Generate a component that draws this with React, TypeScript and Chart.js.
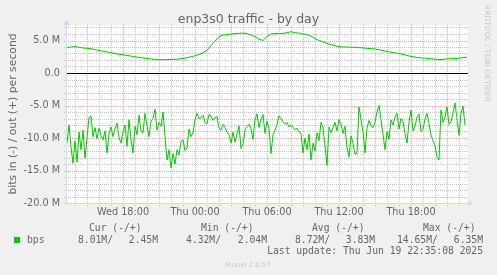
import React, { useEffect, useRef } from 'react';
import { Chart, registerables } from 'chart.js';

Chart.register(...registerables);

const title = 'enp3s0 traffic - by day';
const yAxisTitle = 'bits in (-) / out (+) per second';
const seriesName = 'bps';
const startHour = 13 + 20 / 60; // Wed 13:20
const endHour = 46 + 40 / 60; // Thu 22:40
const inStepHours = 10 / 60;
const outStepHours = 20 / 60;

// bits in (negative, in M)
const bitsIn = [
  -10.8, -8.0, -11.4, -13.9, -10.5, -13.7, -9.1, -11.8, -8.8, -13.1,
  -10.0, -6.9, -6.6, -9.8, -8.4, -10.1, -8.5, -9.6, -10.3, -8.9,
  -12.3, -9.4, -8.3, -9.8, -8.6, -7.7, -9.9, -10.8, -9.1, -8.0,
  -11.3, -7.2, -10.2, -12.3, -8.2, -9.5, -6.5, -9.0, -9.2, -6.2,
  -8.1, -9.8, -7.4, -7.0, -5.6, -8.8, -7.6, -8.2, -6.0, -9.8,
  -13.4, -11.8, -14.6, -12.4, -14.0, -11.8, -12.6, -10.5, -10.3, -11.9,
  -11.5, -8.6, -9.8, -9.2, -7.2, -6.2, -7.0, -6.9, -6.5, -7.6,
  -7.8, -6.4, -6.6, -7.3, -6.9, -6.7, -8.5, -8.8, -7.9, -8.4,
  -9.1, -9.5, -10.8, -9.1, -10.6, -9.4, -8.1, -11.6, -10.9, -8.8,
  -8.2, -7.9, -8.6, -10.2, -7.1, -6.3, -8.4, -7.2, -6.4, -9.3,
  -7.4, -8.6, -12.4, -9.5, -8.8, -8.0, -6.6, -7.0, -7.5, -7.9,
  -7.6, -8.3, -8.0, -8.4, -8.7, -8.5, -9.0, -9.3, -12.3, -10.0,
  -11.8, -9.4, -13.4, -10.8, -12.0, -9.2, -10.4, -7.6, -8.4, -11.2,
  -14.2, -8.3, -9.2, -8.4, -7.6, -8.9, -7.2, -7.9, -9.3, -8.2,
  -11.5, -12.9, -9.7, -10.8, -12.5, -12.3, -5.2, -7.2, -9.0, -12.3,
  -8.5, -7.3, -8.1, -8.4, -7.6, -6.0, -5.0, -7.2, -9.4, -11.8,
  -9.0, -10.2, -7.2, -8.0, -6.8, -6.2, -8.6, -7.0, -7.5, -9.3,
  -10.8, -7.6, -5.7, -8.9, -8.2, -6.8, -6.3, -9.0, -8.7, -7.1,
  -6.2, -7.8, -9.5, -10.4, -11.2, -12.9, -13.4, -5.7, -7.6, -6.8,
  -5.2, -7.9, -7.5, -6.2, -4.6, -7.1, -9.6, -6.2, -5.1, -8.0,
];

// bits out (positive, in M)
const bitsOut = [
  3.9, 4.0, 4.05, 3.95, 3.85, 3.8, 3.75, 3.6, 3.45, 3.35,
  3.25, 3.15, 3.0, 2.9, 2.8, 2.7, 2.6, 2.5, 2.4, 2.3,
  2.25, 2.15, 2.1, 2.05, 2.05, 2.05, 2.1, 2.1, 2.15, 2.25,
  2.35, 2.5, 2.65, 2.85, 3.1, 3.5, 4.2, 4.9, 5.6, 5.85,
  5.9, 6.0, 6.05, 6.1, 6.15, 6.05, 5.85, 5.6, 5.2, 5.0,
  5.6, 6.0, 6.05, 6.1, 6.1, 6.2, 6.35, 6.2, 6.15, 6.0,
  5.9, 5.7, 5.3, 5.0, 4.8, 4.55, 4.35, 4.2, 4.05, 4.0,
  4.0, 3.95, 3.95, 3.9, 3.85, 3.8, 3.75, 3.7, 3.6, 3.45,
  3.3, 3.2, 3.1, 3.0, 2.85, 2.7, 2.55, 2.45, 2.35, 2.3,
  2.25, 2.2, 2.1, 2.05, 2.1, 2.15, 2.3, 2.2, 2.3, 2.35,
  2.45,
];

const xTickHours = [18, 24, 30, 36, 42];
const xTickLabels = ['Wed 18:00', 'Thu 00:00', 'Thu 06:00', 'Thu 12:00', 'Thu 18:00'];
const yTickValues = [-20, -15, -10, -5, 0, 5];
const yTickLabels = ['-20.0 M', '-15.0 M', '-10.0 M', '-5.0 M', '0.0', '5.0 M'];
const yMin = -20;
const yMax = 7.4;

const legendHeaders = ['Cur (-/+)', 'Min (-/+)', 'Avg (-/+)', 'Max (-/+)'];
const legendIn = ['8.01M/', '4.32M/', '8.72M/', '14.65M/'];
const legendOut = ['2.45M', '2.04M', '3.83M', '6.35M'];
const lastUpdate = 'Last update: Thu Jun 19 22:35:08 2025';
const watermark = 'Munin 2.0.57';
const sideText = 'RRDTOOL / TOBI OETIKER';

const GREEN = '#00cc00';
const FONT_COLOR = '#666666';
const MINOR = 'rgba(128,128,128,0.45)';
const MAJOR = 'rgba(230,77,77,0.5)';
const AXIS = '#cfd6f8';
const SANS = '"DejaVu Sans", sans-serif';
const MONO = '"DejaVu Sans Mono", monospace';

const headerX = [89, 201, 312, 423];
const inX = [78, 186, 295, 397];
const outRightX = [158, 267, 375, 483];

const muninPlugin = {
  id: 'muninDecor',
  beforeDraw(chart: any) {
    const { ctx, chartArea: a } = chart;
    const xs = chart.scales.x;
    const ys = chart.scales.y;
    ctx.save();
    ctx.fillStyle = '#f0f0f0';
    ctx.fillRect(0, 0, chart.width, chart.height);
    ctx.fillStyle = '#ffffff';
    ctx.fillRect(a.left, a.top, a.right - a.left + 1, a.bottom - a.top);
    ctx.lineWidth = 1;
    ctx.setLineDash([1, 1]);
    for (let h = Math.ceil(xs.min); h <= Math.floor(xs.max); h++) {
      const px = Math.round(xs.getPixelForValue(h)) + 0.5;
      ctx.strokeStyle = h % 3 === 0 ? MAJOR : MINOR;
      ctx.beginPath();
      ctx.moveTo(px, a.top);
      ctx.lineTo(px, a.bottom + 3);
      ctx.stroke();
    }
    for (let v = Math.ceil(ys.min); v <= Math.floor(ys.max); v++) {
      if (v === 0) continue;
      const py = Math.round(ys.getPixelForValue(v)) + 0.5;
      ctx.strokeStyle = v % 5 === 0 ? MAJOR : MINOR;
      ctx.beginPath();
      ctx.moveTo(a.left - 3, py);
      ctx.lineTo(a.right, py);
      ctx.stroke();
    }
    ctx.setLineDash([]);
    const zy = Math.round(ys.getPixelForValue(0)) + 0.5;
    ctx.strokeStyle = '#000000';
    ctx.beginPath();
    ctx.moveTo(a.left, zy);
    ctx.lineTo(a.right + 1, zy);
    ctx.stroke();
    // axes with arrows
    const ax = Math.round(a.left) - 0.5;
    const by = Math.round(a.bottom) + 0.5;
    ctx.strokeStyle = AXIS;
    ctx.beginPath();
    ctx.moveTo(ax, by);
    ctx.lineTo(ax, a.top - 3);
    ctx.moveTo(ax - 3, by);
    ctx.lineTo(a.right + 2, by);
    ctx.stroke();
    ctx.fillStyle = AXIS;
    ctx.beginPath();
    ctx.moveTo(ax - 3, a.top);
    ctx.lineTo(ax, a.top - 5);
    ctx.lineTo(ax + 3, a.top);
    ctx.closePath();
    ctx.fill();
    ctx.beginPath();
    ctx.moveTo(a.right + 1, by - 3);
    ctx.lineTo(a.right + 6, by);
    ctx.lineTo(a.right + 1, by + 3);
    ctx.closePath();
    ctx.fill();
    ctx.restore();
  },
  afterDraw(chart: any) {
    const { ctx, chartArea: a } = chart;
    ctx.save();
    ctx.fillStyle = FONT_COLOR;
    ctx.textAlign = 'center';
    ctx.textBaseline = 'alphabetic';
    ctx.font = `12.5px ${SANS}`;
    ctx.fillText(title, chart.width / 2, 23);

    ctx.save();
    ctx.font = `10.8px ${SANS}`;
    ctx.translate(15.5, (a.top + a.bottom) / 2);
    ctx.rotate(-Math.PI / 2);
    ctx.textAlign = 'center';
    ctx.textBaseline = 'alphabetic';
    ctx.fillText(yAxisTitle, 0, 0);
    ctx.restore();

    ctx.save();
    ctx.fillStyle = 'rgba(102,102,102,0.3)';
    ctx.font = `7.5px ${SANS}`;
    ctx.translate(484.5, 5);
    ctx.rotate(Math.PI / 2);
    ctx.textAlign = 'left';
    ctx.textBaseline = 'alphabetic';
    ctx.fillText(sideText, 0, 0);
    ctx.restore();

    ctx.font = `9.7px ${MONO}`;
    ctx.textAlign = 'left';
    legendHeaders.forEach((h, i) => ctx.fillText(h, headerX[i], 230.5));
    legendIn.forEach((t, i) => ctx.fillText(t, inX[i], 242.5));
    ctx.textAlign = 'right';
    legendOut.forEach((t, i) => ctx.fillText(t, outRightX[i], 242.5));
    ctx.fillText(lastUpdate, 483, 254);
    ctx.textAlign = 'left';
    ctx.fillText(seriesName, 27, 242.5);
    ctx.fillStyle = GREEN;
    ctx.fillRect(14, 237, 6, 6);

    ctx.fillStyle = 'rgba(102,102,102,0.3)';
    ctx.font = `6.9px ${SANS}`;
    ctx.textAlign = 'center';
    ctx.fillText(watermark, 248, 266.5);
    ctx.restore();
  },
};

export default function App() {
  const ref = useRef<HTMLCanvasElement | null>(null);
  useEffect(() => {
    if (!ref.current) return;
    const chart = new Chart(ref.current, {
      type: 'line',
      data: {
        datasets: [
          {
            label: 'out',
            data: bitsOut.map((v, i) => ({ x: startHour + i * outStepHours, y: v })),
            borderColor: GREEN,
            borderWidth: 1,
            pointRadius: 0,
            tension: 0,
          },
          {
            label: 'in',
            data: bitsIn.map((v, i) => ({ x: startHour + i * inStepHours, y: v })),
            borderColor: GREEN,
            borderWidth: 1,
            pointRadius: 0,
            tension: 0,
          },
        ],
      },
      plugins: [muninPlugin],
      options: {
        responsive: false,
        animation: false,
        events: [],
        layout: { padding: { left: 0, top: 24.9, right: 30, bottom: 0 } },
        plugins: { legend: { display: false }, title: { display: false }, tooltip: { enabled: false } },
        scales: {
          x: {
            type: 'linear',
            min: startHour,
            max: endHour,
            grid: { display: false, drawTicks: false },
            border: { display: false },
            afterBuildTicks: (s: any) => {
              s.ticks = xTickHours.map((v) => ({ value: v }));
            },
            afterFit: (s: any) => {
              s.height = 72;
            },
            ticks: {
              autoSkip: false,
              maxRotation: 0,
              padding: 3.5,
              color: FONT_COLOR,
              font: { family: 'DejaVu Sans', size: 9.7 },
              callback: (v: any) => {
                const i = xTickHours.indexOf(Number(v));
                return i >= 0 ? xTickLabels[i] : '';
              },
            },
          },
          y: {
            type: 'linear',
            min: yMin,
            max: yMax,
            grid: { display: false, drawTicks: false },
            border: { display: false },
            afterBuildTicks: (s: any) => {
              s.ticks = yTickValues.map((v) => ({ value: v }));
            },
            afterFit: (s: any) => {
              s.width = 67;
            },
            ticks: {
              autoSkip: false,
              padding: 7,
              color: FONT_COLOR,
              font: { family: 'DejaVu Sans', size: 9.7 },
              callback: (v: any) => {
                const i = yTickValues.indexOf(Number(v));
                return i >= 0 ? yTickLabels[i] : '';
              },
            },
          },
        },
      },
    });
    return () => chart.destroy();
  }, []);
  return (
    <div style={{ position: 'fixed', left: 0, top: 0, width: 497, height: 275 }}>
      <canvas ref={ref} width={497} height={275} style={{ display: 'block', width: 497, height: 275 }} />
    </div>
  );
}
